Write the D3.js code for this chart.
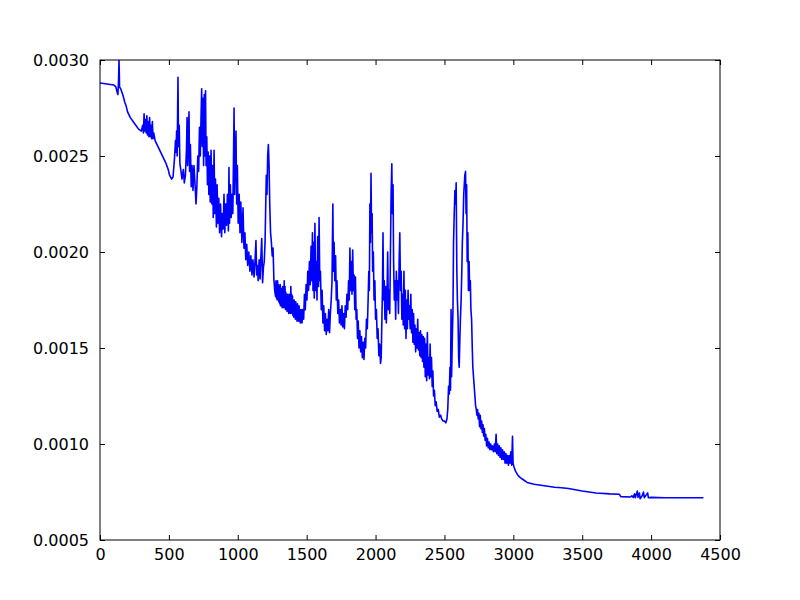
<!DOCTYPE html>
<html><head><meta charset="utf-8">
<script src="https://cdn.jsdelivr.net/npm/d3@7"></script>
<style>body{margin:0;background:#fff}svg{display:block}</style>
</head><body>
<script>
// [step, loss] pairs
const lossCurve = [
[0,0.00288],[50,0.002875],[100,0.00287],[115,0.00286],[125,0.00283],[130,0.00282],[135,0.0029],[138,0.0030],[142,0.00286],[150,0.00285],
[165,0.00282],[180,0.00278],[190,0.00276],[200,0.00273],[220,0.0027],[240,0.00268],[260,0.00266],[280,0.00264],[300,0.00263],[310,0.00266],
[315,0.00262],[320,0.00272],[325,0.00263],[330,0.00269],[335,0.00262],[340,0.00271],[345,0.00261],[350,0.00268],[355,0.0026],[360,0.0027],
[365,0.0026],[370,0.00266],[375,0.00259],[380,0.00268],[385,0.00259],[390,0.00262],[400,0.00258],[420,0.00255],[440,0.00252],[460,0.00249],
[480,0.00246],[495,0.00243],[505,0.0024],[520,0.00238],[530,0.00239],[540,0.00248],[548,0.00258],[552,0.00252],[556,0.00263],[560,0.0025],
[566,0.00291],[570,0.00255],[575,0.00266],[580,0.00246],[588,0.00242],[595,0.00238],[605,0.00243],[612,0.00236],[620,0.0024],[628,0.00254],
[632,0.0027],[636,0.00245],[642,0.00262],[646,0.00273],[650,0.00242],[656,0.00256],[662,0.00234],[668,0.00245],[675,0.00232],[682,0.00245],
[690,0.00235],[697,0.00225],[703,0.00234],[710,0.0025],[716,0.00242],[722,0.00265],[728,0.0025],[733,0.00269],[738,0.00285],[742,0.00255],
[747,0.0028],[752,0.00245],[757,0.00282],[762,0.0025],[766,0.00284],[770,0.00245],[775,0.0026],[780,0.00235],[785,0.00252],[790,0.0023],
[795,0.0025],[800,0.00226],[806,0.00253],[812,0.00225],[818,0.00245],[822,0.00218],[828,0.00253],[833,0.0022],[838,0.00238],[845,0.00213],
[850,0.00235],[856,0.00215],[862,0.00228],[868,0.0021],[875,0.00225],[882,0.00208],[888,0.0022],[894,0.00212],[900,0.0023],[906,0.0021],
[912,0.00225],[918,0.00214],[925,0.0023],[932,0.00211],[936,0.00244],[940,0.00215],[946,0.00235],[952,0.00218],[958,0.0023],[964,0.0022],
[970,0.00255],[973,0.00275],[977,0.0023],[982,0.0025],[987,0.00263],[992,0.00225],[997,0.00245],[1003,0.00215],[1010,0.0023],[1016,0.0021],
[1022,0.00226],[1030,0.00205],[1038,0.00223],[1045,0.00202],[1052,0.0021],[1058,0.00196],[1065,0.00204],[1072,0.00193],[1080,0.002],[1088,0.0019],
[1095,0.00198],[1103,0.00188],[1110,0.00196],[1118,0.00187],[1125,0.00195],[1132,0.00206],[1137,0.00188],[1143,0.00193],[1148,0.00185],[1155,0.00196],
[1162,0.00186],[1168,0.00198],[1174,0.00207],[1180,0.00184],[1186,0.00192],[1192,0.00195],[1198,0.00205],[1203,0.00225],[1207,0.0024],[1212,0.0023],
[1217,0.0025],[1222,0.00256],[1227,0.00245],[1232,0.00225],[1238,0.0021],[1244,0.00205],[1250,0.00198],[1256,0.00202],[1262,0.00186],[1268,0.0018],
[1274,0.00177],[1277,0.00185],[1280,0.00176],[1283,0.00184],[1286,0.00175],[1289,0.00185],[1292,0.00176],[1295,0.00183],[1298,0.00174],[1301,0.00182],
[1305,0.00173],[1308,0.00183],[1310,0.00172],[1313,0.0018],[1316,0.00172],[1319,0.00181],[1322,0.00171],[1325,0.00182],[1328,0.00172],[1331,0.00179],
[1334,0.00171],[1337,0.00185],[1340,0.00173],[1343,0.00182],[1346,0.0017],[1349,0.00179],[1352,0.00171],[1355,0.00177],[1358,0.00169],[1361,0.00178],
[1364,0.0017],[1367,0.00177],[1370,0.00168],[1373,0.00178],[1376,0.0017],[1379,0.00176],[1382,0.00168],[1385,0.00182],[1388,0.00171],[1391,0.00178],
[1394,0.00168],[1397,0.00177],[1400,0.00167],[1403,0.00175],[1406,0.00166],[1409,0.00175],[1412,0.00167],[1415,0.00174],[1418,0.00165],[1421,0.00174],
[1424,0.00166],[1427,0.00172],[1430,0.00164],[1433,0.00173],[1436,0.00165],[1439,0.00171],[1442,0.00164],[1445,0.00172],[1448,0.00165],[1451,0.0017],
[1454,0.00163],[1460,0.0017],[1466,0.00163],[1472,0.0017],[1478,0.00165],[1484,0.00178],[1490,0.0017],[1496,0.00183],[1502,0.00175],[1508,0.0019],
[1514,0.0018],[1520,0.00195],[1526,0.00183],[1532,0.00203],[1537,0.00185],[1542,0.0021],[1546,0.0018],[1550,0.00205],[1555,0.00176],[1560,0.00215],
[1565,0.0018],[1570,0.00195],[1575,0.00175],[1580,0.00208],[1586,0.00182],[1590,0.00218],[1595,0.00185],[1600,0.0019],[1606,0.0017],[1612,0.0018],
[1618,0.00163],[1624,0.00172],[1630,0.00159],[1636,0.00168],[1642,0.00157],[1648,0.00165],[1654,0.00159],[1660,0.0017],[1666,0.00158],[1672,0.00168],
[1678,0.00175],[1684,0.00185],[1690,0.00225],[1694,0.0019],[1699,0.00205],[1704,0.00185],[1710,0.00198],[1715,0.00175],[1720,0.00185],[1726,0.00168],
[1732,0.00175],[1738,0.00163],[1744,0.0017],[1750,0.00162],[1756,0.00172],[1762,0.00161],[1768,0.00168],[1774,0.0016],[1780,0.00172],[1786,0.00166],
[1792,0.00178],[1798,0.0017],[1804,0.00185],[1809,0.00175],[1814,0.00202],[1819,0.0018],[1824,0.00195],[1829,0.00178],[1834,0.00201],[1839,0.0018],
[1844,0.00188],[1849,0.0017],[1854,0.00187],[1859,0.00165],[1864,0.0017],[1869,0.00155],[1874,0.00164],[1880,0.0015],[1886,0.00159],[1892,0.00148],
[1898,0.00156],[1904,0.00145],[1910,0.00153],[1916,0.00144],[1922,0.00155],[1928,0.0015],[1934,0.00165],[1940,0.0016],[1946,0.00175],[1951,0.0019],
[1955,0.0018],[1959,0.00225],[1963,0.00205],[1967,0.00241],[1971,0.0021],[1975,0.0022],[1979,0.0019],[1984,0.002],[1989,0.00175],[1995,0.00185],
[2000,0.00165],[2006,0.0017],[2012,0.00155],[2018,0.0016],[2024,0.00146],[2030,0.00152],[2036,0.00142],[2041,0.00145],[2046,0.00165],[2050,0.0018],
[2054,0.0021],[2058,0.00175],[2063,0.00185],[2068,0.00165],[2073,0.00182],[2078,0.00163],[2083,0.00175],[2088,0.002],[2093,0.0017],[2098,0.0018],
[2103,0.00168],[2108,0.002],[2113,0.0023],[2118,0.00246],[2122,0.0022],[2127,0.00235],[2131,0.00195],[2136,0.00175],[2141,0.00185],[2146,0.00165],
[2151,0.0019],[2156,0.00175],[2161,0.00185],[2166,0.00168],[2171,0.00195],[2176,0.0021],[2181,0.0018],[2186,0.0019],[2191,0.00165],[2196,0.00178],
[2201,0.00162],[2206,0.0019],[2211,0.0016],[2216,0.0018],[2221,0.00155],[2226,0.00175],[2231,0.0016],[2236,0.0018],[2241,0.00165],[2246,0.00172],
[2251,0.0016],[2256,0.00178],[2261,0.00158],[2266,0.0017],[2271,0.00153],[2276,0.00168],[2281,0.00152],[2286,0.00162],[2291,0.00148],[2296,0.0016],
[2301,0.0015],[2306,0.00165],[2311,0.00149],[2316,0.00158],[2321,0.00146],[2326,0.00159],[2331,0.00145],[2336,0.00157],[2341,0.00143],[2346,0.00156],
[2351,0.0014],[2356,0.00155],[2361,0.00135],[2366,0.00152],[2371,0.00133],[2376,0.00158],[2381,0.00136],[2386,0.00145],[2391,0.00134],[2396,0.00152],
[2401,0.00135],[2406,0.00145],[2411,0.0013],[2416,0.00138],[2421,0.00125],[2427,0.00128],[2433,0.0012],[2440,0.00122],[2447,0.00117],[2455,0.00118],
[2463,0.00114],[2472,0.00115],[2480,0.00113],[2490,0.00112],[2500,0.00112],[2510,0.00111],[2518,0.00113],[2524,0.00118],[2530,0.0013],[2535,0.00126],
[2540,0.0014],[2544,0.00128],[2548,0.0017],[2552,0.00135],[2557,0.00155],[2562,0.0017],[2566,0.00205],[2571,0.0022],[2576,0.00232],[2581,0.00225],
[2585,0.00236],[2590,0.0019],[2594,0.00175],[2599,0.00165],[2603,0.00145],[2607,0.0014],[2612,0.00155],[2616,0.00165],[2621,0.00175],[2626,0.0019],
[2630,0.00205],[2635,0.00215],[2640,0.0023],[2644,0.00235],[2648,0.0024],[2653,0.00242],[2657,0.0022],[2661,0.00235],[2665,0.00195],[2670,0.0021],
[2674,0.0018],[2679,0.00195],[2683,0.0018],[2688,0.00185],[2692,0.0017],[2697,0.00165],[2702,0.0015],[2706,0.0014],[2711,0.00135],[2716,0.0013],
[2721,0.00125],[2726,0.0012],[2731,0.00118],[2736,0.00115],[2740,0.00118],[2745,0.00113],[2750,0.00116],[2755,0.00109],[2760,0.00115],[2765,0.00108],
[2770,0.00112],[2775,0.00106],[2780,0.0011],[2785,0.00104],[2790,0.00108],[2795,0.00102],[2800,0.00105],[2806,0.00099],[2812,0.00103],[2818,0.00098],
[2824,0.00101],[2830,0.00097],[2836,0.001],[2842,0.00097],[2848,0.00099],[2855,0.00096],[2862,0.001],[2868,0.00096],[2875,0.00105],[2880,0.00095],
[2886,0.001],[2892,0.00094],[2898,0.00099],[2904,0.00093],[2910,0.00098],[2916,0.00092],[2922,0.00097],[2928,0.00092],[2934,0.00096],[2940,0.0009],
[2946,0.00095],[2952,0.0009],[2958,0.00094],[2964,0.00089],[2970,0.00094],[2976,0.0009],[2982,0.00096],[2988,0.00089],[2994,0.00104],[2998,0.0009],
[3005,0.00088],[3015,0.00086],[3030,0.00084],[3050,0.000825],[3070,0.000815],[3100,0.0008],[3150,0.00079],[3200,0.000785],[3250,0.00078],[3300,0.000775],
[3350,0.000772],[3400,0.000768],[3450,0.000762],[3500,0.000755],[3550,0.00075],[3600,0.000745],[3700,0.00074],[3770,0.000738],[3780,0.000726],[3850,0.000724],
[3860,0.00073],[3870,0.000722],[3880,0.00074],[3885,0.00072],[3900,0.000755],[3905,0.000722],[3915,0.000745],[3920,0.000715],[3935,0.00073],[3945,0.00075],
[3950,0.00072],[3965,0.000735],[3975,0.000745],[3980,0.00072],[4000,0.000722],[4100,0.00072],[4200,0.00072],[4300,0.00072],[4380,0.00072]
];
const steps = lossCurve.map(d => d[0]);
const loss = lossCurve.map(d => d[1]);
const xTicks = [0,500,1000,1500,2000,2500,3000,3500,4000,4500];
const yTicks = [0.0005,0.0010,0.0015,0.0020,0.0025,0.0030];

const W = 800, H = 600;
const m = {l:100, r:80, t:60, b:60};
const svg = d3.select("body").append("svg").attr("width", W).attr("height", H);
const x = d3.scaleLinear().domain([0,4500]).range([m.l, W - m.r]);
const y = d3.scaleLinear().domain([0.0005,0.0030]).range([H - m.b, m.t]);

svg.append("defs").append("clipPath").attr("id","clip").append("rect")
  .attr("x", m.l).attr("y", m.t).attr("width", W - m.l - m.r).attr("height", H - m.t - m.b);

const line = d3.line().x((d,i) => x(steps[i])).y((d,i) => y(loss[i]));
svg.append("path").datum(loss).attr("clip-path","url(#clip)")
  .attr("fill","none").attr("stroke","#0000ff").attr("stroke-width",1.6)
  .attr("stroke-linejoin","round").attr("d", line);

const font = "DejaVu Sans, sans-serif";
function style(g){
  g.select(".domain").remove();
  g.selectAll("text").attr("font-family", font).attr("font-size", "16px").attr("fill","#000");
  g.selectAll("line").attr("stroke","#000");
}
const tl = 5;
svg.append("g").attr("transform",`translate(0,${H-m.b})`)
  .call(d3.axisBottom(x).tickValues(xTicks).tickFormat(d3.format("d")).tickSize(-tl).tickPadding(tl+4))
  .call(style);
svg.append("g").attr("transform",`translate(0,${m.t})`)
  .call(d3.axisTop(x).tickValues(xTicks).tickFormat("").tickSize(-tl))
  .call(style);
svg.append("g").attr("transform",`translate(${m.l},0)`)
  .call(d3.axisLeft(y).tickValues(yTicks).tickFormat(d3.format(".4f")).tickSize(-tl).tickPadding(tl+6))
  .call(style);
svg.append("g").attr("transform",`translate(${W-m.r},0)`)
  .call(d3.axisRight(y).tickValues(yTicks).tickFormat("").tickSize(-tl))
  .call(style);

svg.append("rect").attr("x", m.l).attr("y", m.t).attr("width", W-m.l-m.r).attr("height", H-m.t-m.b)
  .attr("fill","none").attr("stroke","#000").attr("stroke-width",1);
</script>
</body></html>
